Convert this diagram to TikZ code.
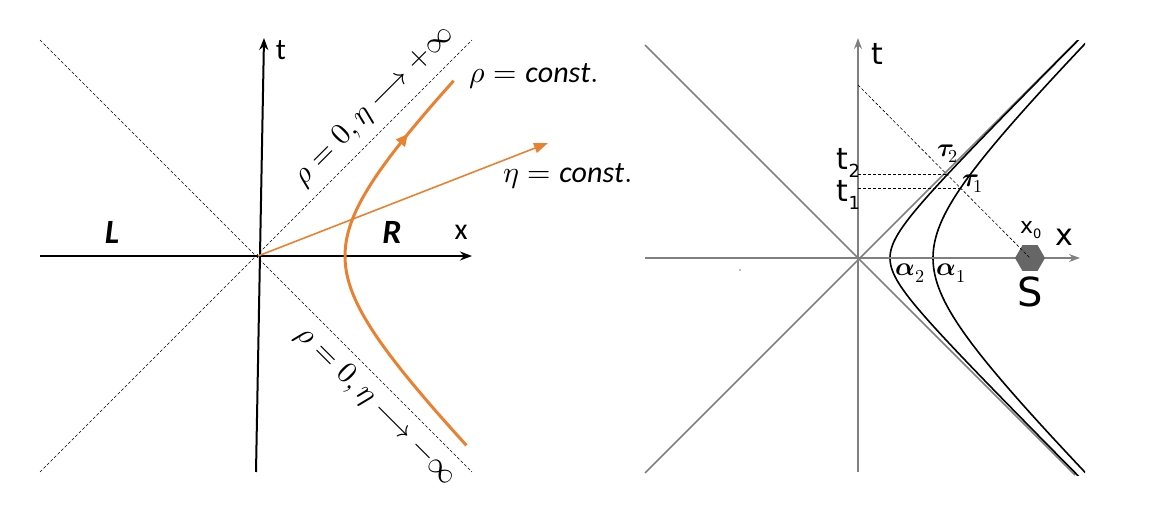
\documentclass[tikz,border=0pt]{standalone}
\usepackage{amsmath}
\usepackage{fontspec}
\usepackage{unicode-math}
\setmainfont{Carlito}
\setmathfont{Latin Modern Math}
\newfontfamily\dejavu{DejaVu Sans}
\usetikzlibrary{arrows.meta,shapes.geometric}
\definecolor{rindler}{RGB}{232,130,50}
\tikzset{
  axis/.style={line width=2pt,-{Stealth[length=12pt,width=9pt]}},
  light/.style={line width=0.6pt,dash pattern=on 3pt off 2pt},
  orange line/.style={color=rindler,line width=3pt},
  gray axis/.style={gray,line width=1.5pt,-{Stealth[length=11pt,width=8pt]}},
  lbl/.style={font=\fontsize{30}{34}\selectfont},
  rlbl/.style={font=\dejavu\fontsize{30}{34}\selectfont},
  greek/.style={font=\fontsize{26}{30}\selectfont}
}
\begin{document}
\begin{tikzpicture}[x=1pt,y=-1pt]
        \useasboundingbox (0,0) rectangle (1160,506);
        % left panel
        \coordinate (O) at (258,256);
        \draw[light] (40,40) -- (472,472);
        \draw[light] (40,472) -- (472,40);
        \draw[axis] (40,256) -- (472,256);
        \draw[axis] (256,472) -- (264,38);
        \def\aa{87}
        \draw[orange line] plot[domain=-1.52:1.45,samples=60,smooth] ({258+\aa*cosh(\x)},{256-\aa*sinh(\x)});
        \coordinate (mid) at ({258+\aa*cosh(1.1)},{256-\aa*sinh(1.1)});
        \coordinate (mid2) at ({258+\aa*cosh(1.14)},{256-\aa*sinh(1.14)});
        \draw[orange line,-{Triangle[length=12pt,width=11pt]}] (mid) -- (mid2);
        \draw[color=rindler,line width=1.6pt,-{Triangle[length=14pt,width=10pt]}] (O) -- (548,143);
        \node[lbl,anchor=west] (rho) at (466,76) {$\rho = \mathit{const}.$};
        \node[lbl,anchor=west] (eta) at (500,176) {$\eta = \mathit{const}.$};
        \node[lbl,font=\fontsize{34}{38}\selectfont] (L) at (112,232) {\textbf{\textit{L}}};
        \node[lbl,font=\fontsize{34}{38}\selectfont] (R) at (392,232) {\textbf{\textit{R}}};
        \node[lbl] (x) at (461,232) {x};
        \node[lbl] (t) at (281,50) {t};
        \node[lbl,rotate=45] (up) at (374,106) {$\rho = 0,\eta \longrightarrow +\infty$};
        \node[lbl,rotate=-45] (dn) at (376,406) {$\rho = 0,\eta \longrightarrow -\infty$};
        % right panel
        \begin{scope}
        \clip (640,40) rectangle (1085,475);
        \draw[gray,line width=1.5pt] (645,45) -- (1075,475);
        \draw[gray,line width=1.5pt] (645,473) -- (1077,41);
        \foreach \a in {32,75}
          \draw[line width=1.6pt] plot[domain=-2.7:2.7,samples=80,smooth] ({858+\a*cosh(\x)},{258-\a*sinh(\x)});
        \end{scope}
        \draw[gray axis] (645,258) -- (1080,258);
        \draw[gray axis] (858,472) -- (858,38);
        \node[regular polygon,regular polygon sides=6,fill=black!60,minimum size=30pt,inner sep=0pt] (S) at (1030,258) {};
        \draw[light] (858,85) -- (S.center);
        \coordinate (tau2) at (947.5,174.5);
        \coordinate (tau1) at (961,188);
        \draw[light] (858,174.5) -- (tau2);
        \draw[light] (858,188) -- (tau1);
        \node[rlbl] (tt) at (877,54) {t};
        \node[rlbl] (xx) at (1064,237) {x};
        \node[rlbl,anchor=east] (t2) at (864,163) {t\textsubscript{\fontsize{18}{20}\selectfont 2}};
        \node[rlbl,anchor=east] (t1) at (864,195) {t\textsubscript{\fontsize{18}{20}\selectfont 1}};
        \node[greek] (ltau2) at (948,154) {$\symbf{\tau}_{\!2}$};
        \node[greek] (ltau1) at (973,184) {$\symbf{\tau}_{\!1}$};
        \node[greek] (lal2) at (910,273) {$\symbf{\alpha}_{2}$};
        \node[greek] (lal1) at (951,273) {$\symbf{\alpha}_{1}$};
        \node[rlbl,font=\dejavu\fontsize{22}{26}\selectfont] (x0) at (1031,230) {x\textsubscript{\fontsize{13}{15}\selectfont 0}};
        \node[rlbl,font=\dejavu\fontsize{40}{44}\selectfont] (lS) at (1030,292) {S};
        \fill[gray] (740,270) circle (0.8pt);
\end{tikzpicture}
\end{document}
